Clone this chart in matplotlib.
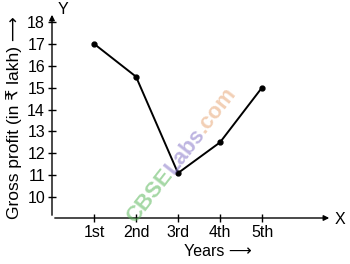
import matplotlib
matplotlib.use("Agg")
import matplotlib.pyplot as plt
import numpy as np

years = ["1st", "2nd", "3rd", "4th", "5th"]
profit = [17, 15.5, 11.1, 12.5, 15]
yticks = [10, 11, 12, 13, 14, 15, 16, 17, 18]

plt.rcParams['font.family'] = ['Liberation Sans', 'DejaVu Sans']

W, H = 350, 264
fig = plt.figure(figsize=(3.5, 2.64), dpi=100)
ax = fig.add_axes([52/W, 46/H, 280/W, 206/H])
x = np.arange(1, len(years) + 1)
ax.plot(x, profit, color='black', lw=1.4, marker='o', ms=3.5, zorder=3)
ax.set_xlim(0, 280/42)
ax.set_ylim(9.05, 18.45)
ax.set_xticks(x)
ax.set_xticklabels(years, fontsize=11.5)
ax.set_yticks(yticks)
ax.set_yticklabels([str(v) for v in yticks], fontsize=11.5)
ax.tick_params(direction='inout', length=6, width=1, pad=2)
for s in ax.spines.values():
    s.set_visible(False)
ax.annotate('', xy=(1, 0), xytext=(0, 0), xycoords='axes fraction',
            arrowprops=dict(arrowstyle='-|>', color='black', lw=1, mutation_scale=8))
ax.annotate('', xy=(0, 1), xytext=(0, 0), xycoords='axes fraction',
            arrowprops=dict(arrowstyle='-|>', color='black', lw=1, mutation_scale=8))
fig.text(340/W, 1 - 219/H, 'X', fontsize=11.5, ha='center', va='center')
fig.text(63/W, 1 - 10/H, 'Y', fontsize=11.5, ha='center', va='center')
fig.text(14/W, 1 - 118/H, 'Gross profit (in \u20b9 lakh) \u27f6', fontsize=12.5,
         rotation=90, ha='center', va='center')
fig.text(218/W, 1 - 251/H, 'Years \u27f6', fontsize=11.5, ha='center', va='center')

# watermark
parts = [("CBSE", "#5cb85c"), ("Labs", "#8878c8"), (".com", "#e8a878")]
renderer = fig.canvas.get_renderer()
ang = np.deg2rad(52)
px, py = 135.0, H - 224.0  # display pixel start (origin bottom-left)
for t, c in parts:
    tmp = fig.text(0, 0, t, fontsize=16, fontweight='bold')
    w = tmp.get_window_extent(renderer).width
    tmp.remove()
    fig.text(px / W, py / H, t, color=c, alpha=0.55, fontsize=16, fontweight='bold',
             rotation=np.rad2deg(ang), ha='left', va='baseline', rotation_mode='anchor',
             zorder=0)
    px += w * np.cos(ang)
    py += w * np.sin(ang)

fig.savefig('out.png', dpi=100)
